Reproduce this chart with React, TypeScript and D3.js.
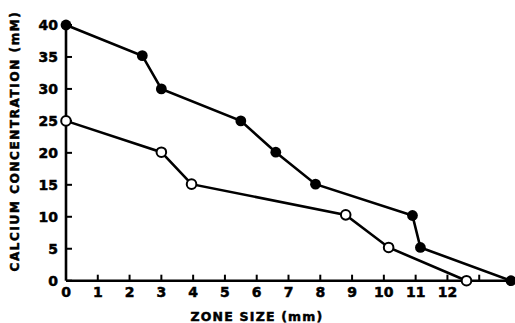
import React from 'react'
import * as d3 from 'd3'

const filledX = [0, 2.4, 3.0, 5.5, 6.6, 7.85, 10.9, 11.15, 14]
const filledY = [40, 35.2, 30, 25, 20.1, 15.1, 10.2, 5.2, 0]
const openX = [0, 3.0, 3.95, 8.8, 10.15, 12.6]
const openY = [25, 20.1, 15.1, 10.3, 5.2, 0]
const xTicks = [0, 1, 2, 3, 4, 5, 6, 7, 8, 9, 10, 11, 12, 13]
const xTickLabels = ['0', '1', '2', '3', '4', '5', '6', '7', '8', '9', '10', '11', '12', '']
const yTicks = [0, 5, 10, 15, 20, 25, 30, 35, 40]

const W = 515
const H = 323

export default function App() {
  const x = d3.scaleLinear().domain([0, 14]).range([66, 511])
  const y = d3.scaleLinear().domain([0, 40]).range([280.7, 25])

  const line = d3.line<[number, number]>()
    .x(d => x(d[0]))
    .y(d => y(d[1]))

  const filled: [number, number][] = filledX.map((v, i) => [v, filledY[i]])
  const open: [number, number][] = openX.map((v, i) => [v, openY[i]])

  const font = '"DejaVu Sans", sans-serif'
  // bolder look like the printed figure
  const heavy = { stroke: '#000', strokeWidth: 0.5 }

  return (
    <svg width={W} height={H} style={{ position: 'absolute', left: 0, top: 0, background: '#fff' }}>
      {/* axes */}
      <line x1={x(0)} x2={x(0)} y1={y(0)} y2={y(40)} stroke="#000" strokeWidth={2.6} />
      <line x1={x(0)} x2={x(14)} y1={y(0)} y2={y(0)} stroke="#000" strokeWidth={2.6} />
      {yTicks.map(t => (
        <g key={'y' + t}>
          <line x1={x(0)} x2={x(0) + 6} y1={y(t)} y2={y(t)} stroke="#000" strokeWidth={2} />
          <text x={58} y={y(t)} dy="0.36em" textAnchor="end" fontFamily={font} fontWeight="bold"
            fontSize={14} {...heavy}>{t}</text>
        </g>
      ))}
      {xTicks.map((t, i) => (
        <g key={'x' + t}>
          {t > 0 && <line x1={x(t)} x2={x(t)} y1={y(0)} y2={y(0) - 6} stroke="#000" strokeWidth={2} />}
          <text x={x(t)} y={297} textAnchor="middle" fontFamily={font} fontWeight="bold"
            fontSize={14} {...heavy}>{xTickLabels[i]}</text>
        </g>
      ))}
      <text x={257} y={321} textAnchor="middle" fontFamily={font} fontWeight="bold" fontSize={12.5}
        letterSpacing={1.2} {...heavy}>ZONE SIZE (mm)</text>
      <text transform="translate(19,141) rotate(-90)" textAnchor="middle" fontFamily={font}
        fontWeight="bold" fontSize={12} letterSpacing={1.6} {...heavy}>CALCIUM CONCENTRATION (mM)</text>

      {/* series */}
      <path d={line(filled) || ''} fill="none" stroke="#000" strokeWidth={2.6} />
      <path d={line(open) || ''} fill="none" stroke="#000" strokeWidth={2.6} />
      {filled.map((d, i) => (
        <circle key={'f' + i} cx={x(d[0])} cy={y(d[1])} r={5.4} fill="#000" />
      ))}
      {open.map((d, i) => (
        <circle key={'o' + i} cx={x(d[0])} cy={y(d[1])} r={4.8} fill="#fff" stroke="#000" strokeWidth={2} />
      ))}
    </svg>
  )
}
